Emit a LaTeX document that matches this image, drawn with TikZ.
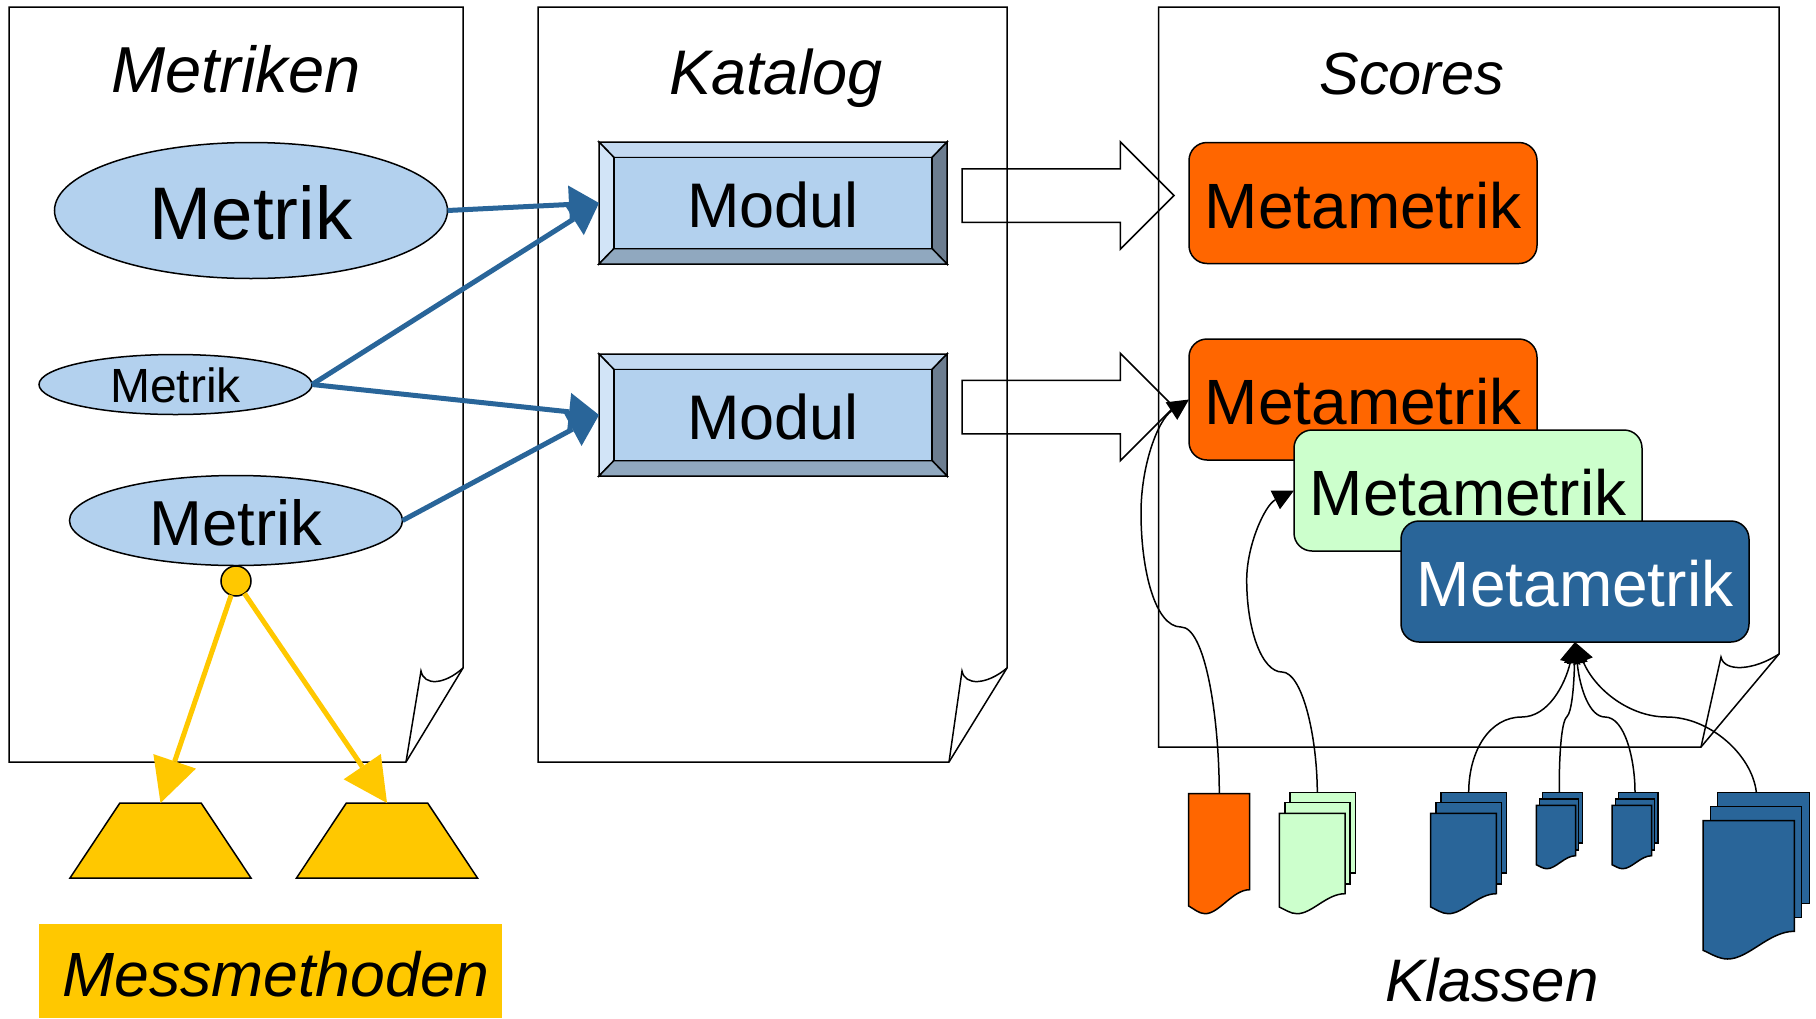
\documentclass[tikz,border=0pt]{standalone}
\usepackage{fontspec}
\setmainfont{Liberation Sans}
\usepackage{tikz}
\usetikzlibrary{arrows.meta,shapes.geometric,shapes.arrows}
\definecolor{metrikblue}{HTML}{B3D1EE}
\definecolor{bevelT}{HTML}{C3D9F1}
\definecolor{bevelL}{HTML}{D2E4F7}
\definecolor{bevelR}{HTML}{6C7D90}
\definecolor{bevelB}{HTML}{90A8BF}
\definecolor{classblue}{HTML}{296599}
\definecolor{scoreorange}{HTML}{FF6600}
\definecolor{scoregreen}{HTML}{CCFFCC}
\definecolor{methodyellow}{HTML}{FFC800}
\newcommand{\fs}[1]{\fontsize{#1}{#1}\selectfont}
% sheet with turned corner: left, right, fold y, corner x, bottom, tip x, tip y
\newcommand{\foldpage}[7]{
\draw [sheet] (#1,7) -- (#2,7) -- (#2,#3) -- (#4,#5) -- (#1,#5) -- cycle;
\draw [sheet] (#4,#5) -- (#6,#7) .. controls ({#6+3},{#7+15}) and ({#6+0.55*(#2-#6)},{#7+14}) .. (#2,#3);
}
% document with wavy foot: left, right, top, right foot, left foot, lowest, colour
\newcommand{\classdoc}[7]{
\pgfmathsetmacro{\dw}{#2-#1}
\draw [sheet,fill=#7] (#1,#3) -- (#2,#3) -- (#2,#4)
  .. controls ({#1+0.72*\dw},#4) and ({#1+0.5*\dw},#6) .. ({#1+0.27*\dw},#6)
  .. controls ({#1+0.17*\dw},#6) and ({#1+0.08*\dw},{#5+0.35*(#6-#5)}) .. (#1,#5) -- cycle;
}
\begin{document}
\begin{tikzpicture}
[x=1pt,y=-1pt,
sheet/.style={draw,line width=1.5pt,line join=miter},
title/.style={anchor=base,inner sep=0pt,font=\fs{63}\itshape},
metrik/.style={ellipse,draw,fill=metrikblue,line width=1.5pt,inner sep=0pt,outer sep=0pt},
modulface/.style={draw,line width=1.5pt,line join=miter},
score/.style={rectangle,draw,rounded corners=18pt,line width=1.5pt,minimum width=348pt,
minimum height=121pt,inner sep=0pt,outer sep=0pt,text height=51.5pt,font=\fs{64}},
method/.style={trapezium,trapezium stretches=true,trapezium angle=58.5,draw,fill=methodyellow,line width=1.5pt,
minimum width=181pt,minimum height=75pt,inner sep=1pt,outer sep=0pt},
blockarrow/.style={single arrow,draw,line width=1.5pt,minimum height=212pt,minimum width=106pt,
single arrow head extend=27pt,inner xsep=0pt,inner ysep=26pt,outer sep=0pt,anchor=tip},
blueline/.style={draw=classblue,line width=5pt,-{Triangle[width=38pt,length=30pt,line width=0pt]}},
yellowline/.style={draw=methodyellow,line width=5pt,-{Triangle[width=45pt,length=44pt,line width=0pt]}},
classline/.style={draw,line width=1.5pt,-{Triangle[width=21pt,length=21pt,line width=0pt]}}]
\useasboundingbox (0,0) rectangle (1816,1018);

\foldpage{9}{463}{668}{406}{762}{421}{671}
\foldpage{538}{1007}{668}{949}{762}{962}{671}
\foldpage{1158.5}{1779}{654}{1701}{747}{1721}{657}

\node [title,font=\fs{65}\itshape]   (metriken)  at (236, 92.5)   {Metriken};
\node [title]                (katalog)   at (776, 94)     {Katalog};
\node [title,font=\fs{59.5}\itshape] (scores) at (1412, 94) {Scores};
\node [title,font=\fs{60}\itshape] (klassen) at (1492, 1001.5) {Klassen};

\node [metrik,minimum width=393pt,minimum height=136pt,text height=59pt,font=\fs{74.5}] (metrikA) at (251, 210.5) {Metrik};
\node [metrik,minimum width=273pt,minimum height=60pt,text height=37pt,font=\fs{48}]  (metrikB) at (175.5, 384.5) {Metrik};
\node [metrik,minimum width=333pt,minimum height=90pt,text height=50pt,font=\fs{63.5}]  (metrikC) at (236, 520.5) {Metrik};

% bevelled modules
\foreach \y/\nm in {142/modA,354/modB}{
\node [rectangle,minimum width=348pt,minimum height=122pt,inner sep=0pt,outer sep=0pt] (\nm) at (773,{\y+61}) {};
\draw [modulface,fill=bevelT] (599,\y) -- (947,\y) -- (932,{\y+15.5}) -- (614,{\y+15.5}) -- cycle;
\draw [modulface,fill=bevelL] (599,\y) -- (614,{\y+15.5}) -- (614,{\y+106.5}) -- (599,{\y+122}) -- cycle;
\draw [modulface,fill=bevelR] (947,\y) -- (932,{\y+15.5}) -- (932,{\y+106.5}) -- (947,{\y+122}) -- cycle;
\draw [modulface,fill=bevelB] (599,{\y+122}) -- (614,{\y+106.5}) -- (932,{\y+106.5}) -- (947,{\y+122}) -- cycle;
\node [rectangle,draw,fill=metrikblue,line width=1.5pt,minimum width=318pt,minimum height=91pt,
inner sep=0pt,text height=50pt,font=\fs{63}] (\nm text) at (773,{\y+61}) {Modul};
}

\node [blockarrow] (arrowA) at (1174, 195.5) {};
\node [blockarrow] (arrowB) at (1174, 407) {};

\node [score,fill=scoreorange]       (scoreA) at (1363, 203)   {Metametrik};
\node [score,fill=scoreorange]       (scoreB) at (1363, 399.5) {Metametrik};
\node [score,fill=scoregreen]        (scoreC) at (1468, 490.5) {Metametrik};
\node [score,fill=classblue,text=white] (scoreD) at (1575, 581.5) {Metametrik};

\draw [blueline] (metrikA.east) to (modA.west);
\draw [blueline] (metrikB.east) to (modA.west);
\draw [blueline] (metrikB.east) to (modB.west);
\draw [blueline] (metrikC.east) to (modB.west);

\node [method] (methodA) at (160.5, 840.5) {};
\node [method] (methodB) at (387, 840.5) {};
\node [circle,draw,fill=methodyellow,line width=1.5pt,minimum size=30pt,inner sep=0pt,outer sep=0pt] (dot) at (236, 581) {};
\draw [yellowline] (dot) to (methodA.north);
\draw [yellowline] (dot) to (methodB.north);

\node [rectangle,fill=methodyellow,minimum width=463pt,inner sep=0pt,text height=72pt,text depth=22pt,
font=\fs{62.5}\itshape] (messmethoden) at (270.5, 971) {\hspace*{11pt}Messmethoden};

% class documents
\classdoc{1188.7}{1249.7}{793.7}{889.7}{906}{913.7}{scoreorange}

\draw [sheet,fill=scoregreen] (1290,792.3) rectangle (1355.7,873);
\draw [sheet,fill=scoregreen] (1285,802.7) rectangle (1350,884);
\classdoc{1279.3}{1345}{813.3}{893.7}{907}{913.7}{scoregreen}

\draw [sheet,fill=classblue] (1441,792.3) rectangle (1506.7,873);
\draw [sheet,fill=classblue] (1436,802.7) rectangle (1501.3,884);
\classdoc{1430.7}{1496.3}{813.3}{893.7}{907}{913.7}{classblue}

\draw [sheet,fill=classblue] (1542.7,792.3) rectangle (1582.3,843);
\draw [sheet,fill=classblue] (1539.3,799) rectangle (1578.7,850);
\classdoc{1536.3}{1575.7}{805.3}{855.7}{864.7}{868.7}{classblue}

\draw [sheet,fill=classblue] (1618.3,792.3) rectangle (1658,843);
\draw [sheet,fill=classblue] (1615.3,799) rectangle (1654.7,850);
\classdoc{1612}{1651.7}{805.3}{855.7}{864.7}{868.7}{classblue}

\draw [sheet,fill=classblue] (1717.3,792.3) rectangle (1809.3,903.7);
\draw [sheet,fill=classblue] (1710.3,806.3) rectangle (1801.3,917.7);
\classdoc{1703}{1794.3}{820.7}{931.3}{950.3}{959}{classblue}

\coordinate (docA) at (1219.3, 793);
\coordinate (docB) at (1317.3, 792);
\coordinate (docC) at (1468.7, 792);
\coordinate (docD) at (1559.3, 792);
\coordinate (docE) at (1635, 792);
\coordinate (docF) at (1756.3, 792);

\draw [classline] (docA) .. controls (1219,715) and (1205,627) .. (1181,627)
  .. controls (1155,627) and (1141,570) .. (1141,513)
  .. controls (1141,465) and (1158,420) .. (scoreB.west);
\draw [classline] (docB) .. controls (1317,735) and (1302,672) .. (1282,672)
  .. controls (1262,672) and (1246.7,630) .. (1246.7,580)
  .. controls (1246.7,545) and (1265,505) .. (scoreC.west);
\draw [classline] (docC) .. controls (1469,750) and (1490,717) .. (1521.7,717)
  .. controls (1548,717) and (1565,685) .. (scoreD.south);
\draw [classline] (docD) .. controls (1559,760) and (1561,722) .. (1566.7,717)
  .. controls (1572,712) and (1574,685) .. (scoreD.south);
\draw [classline] (docE) .. controls (1635,760) and (1625,717) .. (1605,717)
  .. controls (1590,717) and (1580,690) .. (scoreD.south);
\draw [classline] (docF) .. controls (1752,755) and (1710,717) .. (1666.7,717)
  .. controls (1630,717) and (1595,690) .. (scoreD.south);

\end{tikzpicture}
\end{document}
